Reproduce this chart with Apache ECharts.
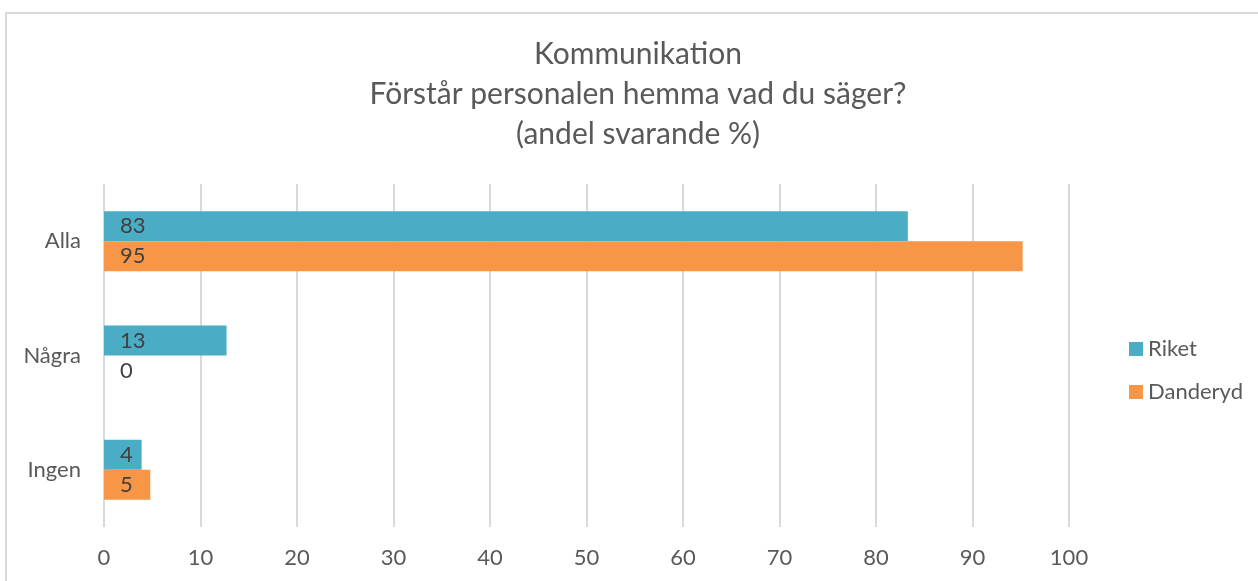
<!DOCTYPE html>
<html>
<head>
<meta charset="utf-8">
<script src="https://cdn.jsdelivr.net/npm/echarts@6/dist/echarts.min.js"></script>
<style>
  html, body { margin: 0; padding: 0; background: #fff; }
  #chart { width: 1258px; height: 581px; }
</style>
</head>
<body>
<div id="chart"></div>
<script>
// data
var categories = ['Alla', 'Några', 'Ingen'];
var riket = [83.3, 12.7, 3.9];
var danderyd = [95.2, 0, 4.8];
var xTicks = [0, 10, 20, 30, 40, 50, 60, 70, 80, 90, 100];

var font = 'Lato';
var myChart = echarts.init(document.getElementById('chart'));

function barLabel() {
    return {
        show: true,
        position: 'insideLeft',
        distance: 16,
        color: '#404040',
        fontFamily: font,
        fontSize: 22,
        formatter: function (p) { return Math.round(p.value); }
    };
}

var option = {
    backgroundColor: '#fff',
    animation: false,
    textStyle: { fontFamily: font },
    graphic: [{
        type: 'rect',
        shape: { x: 6, y: 13, width: 1400, height: 700 },
        style: { fill: 'none', stroke: '#d9d9d9', lineWidth: 2 },
        silent: true
    }],
    title: {
        text: 'Kommunikation\nFörstår personalen hemma vad du säger?\n(andel svarande %)',
        left: 633,   // centre of the text, textAlign below
        top: 29,
        textAlign: 'center',
        textStyle: {
            color: '#595959',
            fontFamily: font,
            fontSize: 30,
            fontWeight: 'normal',
            lineHeight: 40
        }
    },
    legend: {
        orient: 'vertical',
        left: 1129,
        top: 338,
        padding: 0,
        itemWidth: 14,
        itemHeight: 14,
        itemGap: 21,
        icon: 'rect',
        textStyle: { color: '#595959', fontFamily: font, fontSize: 22 },
        data: ['Riket', 'Danderyd']
    },
    grid: { left: 104, right: 189, top: 184, bottom: 54, containLabel: false },
    xAxis: {
        type: 'value',
        min: 0,
        max: 100,
        interval: 10,
        axisLine: { show: false },
        axisTick: { show: false },
        axisLabel: {
            color: '#595959',
            fontFamily: font,
            fontSize: 22,
            margin: 20,
            formatter: function (v) { return xTicks.indexOf(v) >= 0 ? String(v) : ''; }
        },
        splitLine: { show: true, lineStyle: { color: '#d9d9d9', width: 2 } }
    },
    yAxis: {
        type: 'category',
        inverse: true,
        data: categories,
        axisLine: { show: false },
        axisTick: { show: false },
        axisLabel: { color: '#595959', fontFamily: font, fontSize: 22, margin: 23 }
    },
    series: [{
        name: 'Riket',
        type: 'bar',
        data: riket,
        barGap: '0%',
        barCategoryGap: '47.5%',
        itemStyle: { color: '#4bacc6' },
        label: barLabel()
    }, {
        name: 'Danderyd',
        type: 'bar',
        data: danderyd,
        itemStyle: { color: '#f79646' },
        label: barLabel()
    }]
};

myChart.setOption(option);
</script>
</body>
</html>
